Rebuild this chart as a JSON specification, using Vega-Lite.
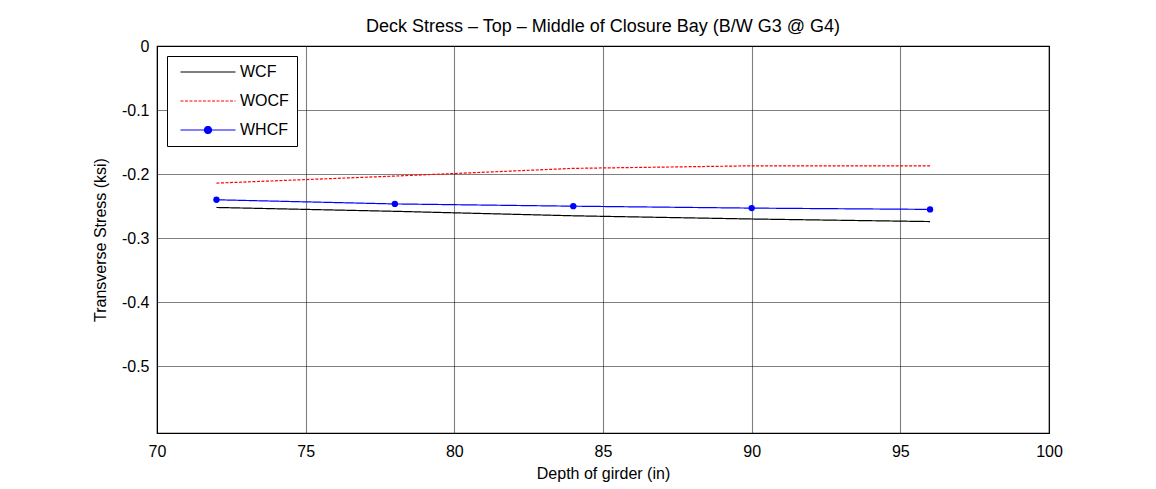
{
  "$schema": "https://vega.github.io/schema/vega-lite/v6.json",
  "width": 892,
  "height": 387,
  "autosize": {"type": "none"},
  "padding": {"left": 157, "top": 46, "right": 107, "bottom": 56},
  "background": "white",
  "config": {
    "font": "Liberation Sans",
    "view": {"stroke": "black", "strokeWidth": 1.2},
    "axis": {
      "domainColor": "black",
      "grid": true,
      "gridColor": "#000000",
      "gridDash": [1, 1],
      "gridOpacity": 1,
      "gridWidth": 1.1,
      "ticks": false,
      "labelFlush": false,
      "labelFont": "Liberation Sans",
      "labelFontSize": 16,
      "labelColor": "black",
      "titleFont": "Liberation Sans",
      "titleFontSize": 16,
      "titleFontWeight": "normal",
      "titleColor": "black"
    }
  },
  "title": {
    "text": "Deck Stress – Top – Middle of Closure Bay (B/W G3 @ G4)",
    "font": "Liberation Sans",
    "fontSize": 18,
    "fontWeight": "normal",
    "color": "black",
    "anchor": "middle",
    "baseline": "alphabetic",
    "offset": -12
  },
  "data": {
    "values": [
      {"depth": 72, "stress": -0.252, "series": "WCF"},
      {"depth": 78, "stress": -0.258, "series": "WCF"},
      {"depth": 84, "stress": -0.265, "series": "WCF"},
      {"depth": 90, "stress": -0.270, "series": "WCF"},
      {"depth": 96, "stress": -0.274, "series": "WCF"},
      {"depth": 72, "stress": -0.214, "series": "WOCF"},
      {"depth": 78, "stress": -0.203, "series": "WOCF"},
      {"depth": 84, "stress": -0.191, "series": "WOCF"},
      {"depth": 90, "stress": -0.187, "series": "WOCF"},
      {"depth": 96, "stress": -0.187, "series": "WOCF"},
      {"depth": 72, "stress": -0.240, "series": "WHCF"},
      {"depth": 78, "stress": -0.2465, "series": "WHCF"},
      {"depth": 84, "stress": -0.250, "series": "WHCF"},
      {"depth": 90, "stress": -0.253, "series": "WHCF"},
      {"depth": 96, "stress": -0.255, "series": "WHCF"}
    ]
  },
  "layer": [
    {
      "mark": {"type": "line", "strokeWidth": 1.2},
      "encoding": {
        "x": {
          "field": "depth",
          "type": "quantitative",
          "scale": {"domain": [70, 100], "nice": false, "zero": false},
          "axis": {"values": [70, 75, 80, 85, 90, 95, 100], "title": "Depth of girder (in)", "labelPadding": 10, "titlePadding": 6}
        },
        "y": {
          "field": "stress",
          "type": "quantitative",
          "scale": {"domain": [-0.604, 0], "nice": false, "zero": false},
          "axis": {
            "values": [-0.5, -0.4, -0.3, -0.2, -0.1, 0],
            "labelExpr": "datum.value == 0 ? '0' : '-' + format(-datum.value, '.1f')",
            "title": "Transverse Stress (ksi)",
            "labelPadding": 8,
            "titlePadding": 13
          }
        },
        "color": {
          "field": "series",
          "type": "nominal",
          "scale": {"domain": ["WCF", "WOCF", "WHCF"], "range": ["#000000", "#ff0000", "#0000ff"]},
          "legend": {
            "orient": "none",
            "legendX": 10,
            "legendY": 10,
            "title": null,
            "fillColor": "white",
            "strokeColor": "black",
            "padding": 8,
            "cornerRadius": 0,
            "symbolType": "M-5.5,0H5.5",
            "symbolSize": 100,
            "symbolStrokeWidth": 1.2,
            "symbolOffset": 25,
            "labelOffset": 24,
            "labelFont": "Liberation Sans",
            "labelFontSize": 16,
            "labelColor": "black",
            "rowPadding": 13,
            "encode": {
              "symbols": {
                "update": {
                  "shape": {"signal": "datum.value === 'WHCF' ? 'M-5.5,0H5.5M-0.7,0A0.7,0.7,0,1,0,0.7,0A0.7,0.7,0,1,0,-0.7,0Z' : 'M-5.5,0H5.5'"},
                  "fill": {"signal": "datum.value === 'WHCF' ? '#0000ff' : 'transparent'"},
                  "strokeDash": {"signal": "datum.value === 'WOCF' ? [3, 1.5] : [1, 0]"}
                }
              }
            }
          }
        },
        "strokeDash": {
          "field": "series",
          "type": "nominal",
          "scale": {"domain": ["WCF", "WOCF", "WHCF"], "range": [[1, 0], [3, 1.5], [1, 0]]},
          "legend": null
        }
      }
    },
    {
      "transform": [{"filter": "datum.series === 'WHCF'"}],
      "mark": {"type": "point", "filled": true, "size": 40, "opacity": 1, "color": "#0000ff"},
      "encoding": {
        "x": {"field": "depth", "type": "quantitative"},
        "y": {"field": "stress", "type": "quantitative"}
      }
    }
  ]
}
